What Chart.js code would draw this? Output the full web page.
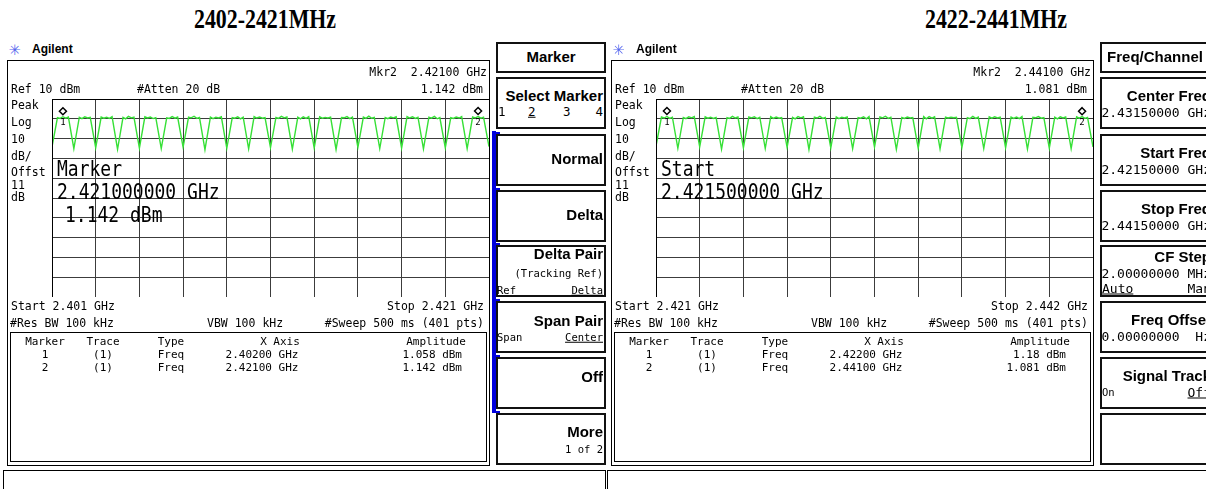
<!DOCTYPE html>
<html>
<head>
<meta charset="utf-8">
<script src="https://cdn.jsdelivr.net/npm/chart.js@4.4.1/dist/chart.umd.min.js"></script>
<style>
  html, body { margin: 0; padding: 0; background: #fff; }
  body { width: 1206px; height: 489px; position: relative; overflow: hidden; font-family: 'DejaVu Sans Mono', monospace; color: #000; }
  .ttl { position: absolute; top: 3px; width: 400px; text-align: center; font: bold 28px 'Liberation Serif', serif; transform: scaleX(.78); white-space: nowrap; }
  .panel { position: absolute; top: 0; height: 489px; overflow: hidden; }
  .box { position: absolute; box-sizing: border-box; border: 1px solid #000; }
  .sk { position: absolute; box-sizing: border-box; border: 2px solid #111; }
  .t { position: absolute; white-space: pre; line-height: 1; font-size: 11.5px; }
  .sm { font-size: 11px; }
  .big { font-size: 18px; }
  .kb { font: bold 15px 'Liberation Sans', sans-serif; }
  .kv { font-size: 10.5px; }
  .kn { font-size: 12.5px; }
  .kv2 { font-size: 13px; }
  .u { text-decoration: underline; }
  .logo { font: bold 12px 'Liberation Sans', sans-serif; }
  .star { color: #5566ee; font-size: 19px; }
  canvas { position: absolute; }
</style>
</head>
<body>
<div class="ttl" style="left:65px">2402-2421MHz</div>
<div class="ttl" style="left:796px">2422-2441MHz</div>
<div class="panel" id="pL" style="left:0;width:606px"><canvas id="cL" width="438" height="199" style="left:51px;top:98px"></canvas></div>
<div class="panel" id="pR" style="left:604px;width:602px"><canvas id="cR" width="438" height="199" style="left:51px;top:98px"></canvas></div>
<script>
// ── trace data (MHz, dBm) ─────────────────────────────────────
const freqL = [
  2401.5, 2401.75, 2401.87, 2402, 2402.13, 2402.25,
  2402.5, 2402.75, 2402.87, 2403, 2403.13, 2403.25,
  2403.5, 2403.75, 2403.87, 2404, 2404.13, 2404.25,
  2404.5, 2404.75, 2404.87, 2405, 2405.13, 2405.25,
  2405.5, 2405.75, 2405.87, 2406, 2406.13, 2406.25,
  2406.5, 2406.75, 2406.87, 2407, 2407.13, 2407.25,
  2407.5, 2407.75, 2407.87, 2408, 2408.13, 2408.25,
  2408.5, 2408.75, 2408.87, 2409, 2409.13, 2409.25,
  2409.5, 2409.75, 2409.87, 2410, 2410.13, 2410.25,
  2410.5, 2410.75, 2410.87, 2411, 2411.13, 2411.25,
  2411.5, 2411.75, 2411.87, 2412, 2412.13, 2412.25,
  2412.5, 2412.75, 2412.87, 2413, 2413.13, 2413.25,
  2413.5, 2413.75, 2413.87, 2414, 2414.13, 2414.25,
  2414.5, 2414.75, 2414.87, 2415, 2415.13, 2415.25,
  2415.5, 2415.75, 2415.87, 2416, 2416.13, 2416.25,
  2416.5, 2416.75, 2416.87, 2417, 2417.13, 2417.25,
  2417.5, 2417.75, 2417.87, 2418, 2418.13, 2418.25,
  2418.5, 2418.75, 2418.87, 2419, 2419.13, 2419.25,
  2419.5, 2419.75, 2419.87, 2420, 2420.13, 2420.25,
  2420.5, 2420.75, 2420.87, 2421, 2421.13, 2421.25,
  2421.5
];
const levelL = [
  -14.2, 0.6, 0.2, 1.06, 0.3, 0.9,
  -15.1, 0.8, 0.1, 1.0, 0.4, 0.7,
  -14.6, 0.9, 0.3, 0.8, 0.2, 1.1,
  -15.4, 0.7, 0.0, 1.2, 0.5, 0.8,
  -14.8, 1.0, 0.4, 0.9, 0.1, 0.6,
  -15.0, 0.5, 0.2, 1.1, 0.3, 0.9,
  -14.3, 0.8, 0.5, 1.3, 0.2, 0.7,
  -15.6, 0.9, 0.1, 0.8, 0.4, 1.0,
  -14.9, 0.6, 0.3, 1.0, 0.0, 0.8,
  -15.2, 1.1, 0.4, 0.9, 0.3, 0.6,
  -14.5, 0.7, 0.2, 1.2, 0.5, 0.9,
  -15.3, 0.8, 0.0, 1.0, 0.2, 1.1,
  -14.7, 1.0, 0.3, 0.7, 0.4, 0.8,
  -15.5, 0.6, 0.5, 1.1, 0.1, 0.9,
  -14.4, 0.9, 0.2, 1.3, 0.3, 0.7,
  -15.0, 0.7, 0.1, 0.9, 0.5, 1.0,
  -14.8, 1.1, 0.4, 1.0, 0.2, 0.8,
  -15.2, 0.8, 0.3, 1.2, 0.0, 0.6,
  -14.6, 0.6, 0.2, 0.9, 0.4, 1.1,
  -15.1, 0.9, 0.5, 1.14, 0.3, 0.8,
  -14.0
];
const freqR = [
  2421.5, 2421.75, 2421.87, 2422, 2422.13, 2422.25,
  2422.5, 2422.75, 2422.87, 2423, 2423.13, 2423.25,
  2423.5, 2423.75, 2423.87, 2424, 2424.13, 2424.25,
  2424.5, 2424.75, 2424.87, 2425, 2425.13, 2425.25,
  2425.5, 2425.75, 2425.87, 2426, 2426.13, 2426.25,
  2426.5, 2426.75, 2426.87, 2427, 2427.13, 2427.25,
  2427.5, 2427.75, 2427.87, 2428, 2428.13, 2428.25,
  2428.5, 2428.75, 2428.87, 2429, 2429.13, 2429.25,
  2429.5, 2429.75, 2429.87, 2430, 2430.13, 2430.25,
  2430.5, 2430.75, 2430.87, 2431, 2431.13, 2431.25,
  2431.5, 2431.75, 2431.87, 2432, 2432.13, 2432.25,
  2432.5, 2432.75, 2432.87, 2433, 2433.13, 2433.25,
  2433.5, 2433.75, 2433.87, 2434, 2434.13, 2434.25,
  2434.5, 2434.75, 2434.87, 2435, 2435.13, 2435.25,
  2435.5, 2435.75, 2435.87, 2436, 2436.13, 2436.25,
  2436.5, 2436.75, 2436.87, 2437, 2437.13, 2437.25,
  2437.5, 2437.75, 2437.87, 2438, 2438.13, 2438.25,
  2438.5, 2438.75, 2438.87, 2439, 2439.13, 2439.25,
  2439.5, 2439.75, 2439.87, 2440, 2440.13, 2440.25,
  2440.5, 2440.75, 2440.87, 2441, 2441.13, 2441.25,
  2441.5
];
const levelR = [
  -13.8, 0.9, 0.4, 1.18, 0.2, 0.8,
  -14.9, 0.7, 0.1, 1.0, 0.5, 1.1,
  -14.2, 1.0, 0.3, 0.8, 0.2, 0.7,
  -15.3, 0.6, 0.2, 1.2, 0.4, 0.9,
  -14.6, 0.9, 0.5, 1.0, 0.1, 0.8,
  -15.0, 1.1, 0.2, 0.9, 0.3, 0.6,
  -14.4, 0.7, 0.0, 1.1, 0.5, 1.0,
  -15.5, 0.8, 0.4, 1.2, 0.2, 0.7,
  -14.7, 1.0, 0.1, 0.8, 0.4, 0.9,
  -15.1, 0.6, 0.3, 1.0, 0.0, 1.1,
  -14.3, 0.9, 0.5, 1.3, 0.2, 0.8,
  -15.4, 0.7, 0.2, 0.9, 0.4, 0.6,
  -14.8, 1.1, 0.0, 1.1, 0.3, 1.0,
  -15.2, 0.8, 0.4, 0.8, 0.5, 0.7,
  -14.5, 0.6, 0.1, 1.2, 0.2, 0.9,
  -15.0, 1.0, 0.3, 1.0, 0.4, 0.8,
  -14.6, 0.9, 0.2, 0.9, 0.1, 1.1,
  -15.3, 0.7, 0.5, 1.1, 0.3, 0.6,
  -14.9, 0.8, 0.0, 1.0, 0.4, 0.9,
  -15.1, 1.0, 0.3, 1.08, 0.2, 0.7,
  -14.2
];
// markers
const mkFreqL = [2402, 2421];
const mkLevelL = [1.058, 1.142];
const mkFreqR = [2422, 2441];
const mkLevelR = [1.18, 1.081];
// grid (10 div), ref 10 dBm, 10 dB/div
const gridFreqL = [2401.5, 2403.5, 2405.5, 2407.5, 2409.5, 2411.5, 2413.5, 2415.5, 2417.5, 2419.5, 2421.5];
const gridFreqR = [2421.5, 2423.5, 2425.5, 2427.5, 2429.5, 2431.5, 2433.5, 2435.5, 2437.5, 2439.5, 2441.5];
const gridLevel = [10, 0, -10, -20, -30, -40, -50, -60, -70, -80, -90];

// ── helpers ──────────────────────────────────────────────────
function T(p, x, y, s, cls, al, sy) {
  const d = document.createElement('div');
  d.className = 't ' + (cls || '');
  d.textContent = s;
  d.style.left = x + 'px';
  d.style.top = y + 'px';
  const tx = al === 'r' ? '-100%' : al === 'c' ? '-50%' : '0';
  d.style.transform = `translate(${tx},-50%)` + (sy ? ` scaleY(${sy})` : '');
  p.appendChild(d);
  return d;
}
function B(p, x, y, w, h, cls, st) {
  const d = document.createElement('div');
  d.className = cls || 'box';
  d.style.left = x + 'px'; d.style.top = y + 'px';
  d.style.width = w + 'px'; d.style.height = h + 'px';
  if (st) d.style.cssText += st;
  p.appendChild(d);
  return d;
}

function buildPanel(p, cfg) {
  // logo
  T(p, 9, 48, '\u2733', 'star');
  T(p, 32, 49, 'Agilent', 'logo');
  // frame
  B(p, 7, 60, 483, 406);
  T(p, 11, 89, 'Ref 10 dBm', '', '', 1.1);
  T(p, 137, 89, '#Atten 20 dB', '', '', 1.1);
  T(p, 487, 72, cfg.mkr, '', 'r', 1.1);
  T(p, 483, 89, cfg.amp, '', 'r', 1.1);
  [['Peak', 105], ['Log', 122], ['10', 139], ['dB/', 156], ['Offst', 172], ['11', 185], ['dB', 197]]
    .forEach(([s, y]) => T(p, 11, y, s, '', '', 1.1));
  cfg.big.forEach(([s, x, y]) => T(p, x, y, s, 'big', '', 1.2));
  T(p, 11, 306, cfg.start, '', '', 1.1);
  T(p, 484, 306, cfg.stop, '', 'r', 1.1);
  T(p, 10, 323, '#Res BW 100 kHz', '', '', 1.1);
  T(p, 207, 323, 'VBW 100 kHz', '', '', 1.1);
  T(p, 484, 323, '#Sweep 500 ms (401 pts)', '', 'r', 1.1);
  // marker table
  B(p, 10, 332, 477, 130);
  [['Marker', 45], ['Trace', 103], ['Type', 171], ['X Axis', 280], ['Amplitude', 436]]
    .forEach(([s, x]) => T(p, x, 341, s, 'sm', 'c'));
  cfg.rows.forEach((r, i) => {
    const y = 354 + i * 13;
    T(p, 45, y, r[0], 'sm', 'c');
    T(p, 103, y, '(1)', 'sm', 'c');
    T(p, 171, y, 'Freq', 'sm', 'c');
    T(p, 262, y, r[1], 'sm', 'c');
    T(p, 462, y, r[2], 'sm', 'r');
  });
  // bottom status box
  B(p, 3, 470, 603, 30);
  // softkeys
  const tops = [77, 134, 190, 245, 301, 357, 413];
  B(p, 496, 42, 110, 31, 'sk');
  T(p, 551, 56, cfg.title, 'kb', 'c');
  tops.forEach((y, i) => {
    B(p, 496, y, 110, 52, 'sk');
    (cfg.keys[i] || []).forEach(([s, dx, dy, cls, al]) => T(p, 496 + dx, y + dy, s, cls, al));
  });
  if (cfg.blue) {
    B(p, 492, 131, 4, 282, 'box', 'border:none;background:#0000dd');
    tops.slice(1).forEach(y => B(p, 492, y - 2, 8, 2, 'box', 'border:none;background:#0000dd'));
  }
}

const R = 107; // right text edge inside softkey
buildPanel(document.getElementById('pL'), {
  mkr: 'Mkr2  2.42100 GHz', amp: '1.142 dBm',
  big: [['Marker', 57, 169], ['2.421000000 GHz', 57, 192], ['1.142 dBm', 65, 215]],
  start: 'Start 2.401 GHz', stop: 'Stop 2.421 GHz',
  rows: [['1', '2.40200 GHz', '1.058 dBm'], ['2', '2.42100 GHz', '1.142 dBm']],
  title: 'Marker', blue: true,
  keys: [
    [['Select Marker', R, 18, 'kb', 'r'], ['1', 2, 35, 'kn'], ['2', 32, 35, 'kn u'], ['3', 67, 35, 'kn'], ['4', R, 35, 'kn', 'r']],
    [['Normal', R, 24, 'kb', 'r']],
    [['Delta', R, 24, 'kb', 'r']],
    [['Delta Pair', R, 8, 'kb', 'r'], ['(Tracking Ref)', R, 28, 'kv', 'r'], ['Ref', 1, 45, 'kv'], ['Delta', R, 45, 'kv u', 'r']],
    [['Span Pair', R, 19, 'kb', 'r'], ['Span', 1, 36, 'kv'], ['Center', R, 36, 'kv u', 'r']],
    [['Off', R, 19, 'kb', 'r']],
    [['More', R, 18, 'kb', 'r'], ['1 of 2', R, 36, 'kv', 'r']]
  ]
});
const R2 = 111;
buildPanel(document.getElementById('pR'), {
  mkr: 'Mkr2  2.44100 GHz', amp: '1.081 dBm',
  big: [['Start', 57, 169], ['2.421500000 GHz', 57, 192]],
  start: 'Start 2.421 GHz', stop: 'Stop 2.442 GHz',
  rows: [['1', '2.42200 GHz', '1.18 dBm'], ['2', '2.44100 GHz', '1.081 dBm']],
  title: 'Freq/Channel', blue: false,
  keys: [
    [['Center Freq', R2, 18, 'kb', 'r'], ['2.43150000 GHz', R2, 35, 'kv2', 'r']],
    [['Start Freq', R2, 18, 'kb', 'r'], ['2.42150000 GHz', R2, 35, 'kv2', 'r']],
    [['Stop Freq', R2, 18, 'kb', 'r'], ['2.44150000 GHz', R2, 35, 'kv2', 'r']],
    [['CF Step', R2, 11, 'kb', 'r'], ['2.00000000 MHz', R2, 28, 'kv2', 'r'], ['Auto', 2, 43, 'kv2 u'], ['Man', R2, 43, 'kv2', 'r']],
    [['Freq Offset', R2, 18, 'kb', 'r'], ['0.00000000  Hz', R2, 35, 'kv2', 'r']],
    [['Signal Track', R2, 18, 'kb', 'r'], ['On', 2, 35, 'kv'], ['Off', R2, 35, 'kv2 u', 'r']],
    []
  ]
});

// ── chart ────────────────────────────────────────────────────
const markerPlugin = {
  id: 'mk',
  afterDatasetsDraw(chart, args, opts) {
    const c = chart.ctx, xs = chart.scales.x, ys = chart.scales.y;
    c.save();
    c.strokeStyle = '#000'; c.fillStyle = '#000'; c.lineWidth = 1.5;
    c.font = '9px "DejaVu Sans Mono"'; c.textAlign = 'center'; c.textBaseline = 'middle';
    opts.f.forEach((f, i) => {
      const px = xs.getPixelForValue(f), py = ys.getPixelForValue(opts.l[i]);
      c.beginPath();
      c.moveTo(px, py - 9); c.lineTo(px + 3.5, py - 5.5); c.lineTo(px, py - 2); c.lineTo(px - 3.5, py - 5.5); c.closePath();
      c.stroke();
      c.fillText(String(i + 1), px, py + 6);
    });
    const a = chart.chartArea;
    c.lineWidth = 1; c.strokeRect(Math.round(a.left) + 0.5, Math.round(a.top) + 0.5, Math.round(a.right - a.left), Math.round(a.bottom - a.top));
    c.restore();
  }
};

function scope(id, freqs, levels, gridF, mkF, mkL) {
  new Chart(document.getElementById(id), {
    type: 'line',
    data: { datasets: [{
      data: freqs.map((f, i) => ({ x: f, y: levels[i] })),
      borderColor: '#36e036', borderWidth: 1.4, pointRadius: 0, tension: 0
    }]},
    options: {
      responsive: false, animation: false, devicePixelRatio: 1,
      layout: { padding: { left: 1, top: 1, right: 0, bottom: 0 } },
      plugins: { legend: { display: false }, tooltip: { enabled: false }, mk: { f: mkF, l: mkL } },
      scales: {
        x: { type: 'linear', min: gridF[0], max: gridF[gridF.length - 1],
             afterBuildTicks: s => { s.ticks = gridF.map(v => ({ value: v })); },
             afterFit: s => { s.height = 0; },
             ticks: { display: false }, grid: { color: '#3c3c3c', drawTicks: false }, border: { color: '#000' } },
        y: { min: -90, max: 10,
             afterBuildTicks: s => { s.ticks = gridLevel.map(v => ({ value: v })); },
             afterFit: s => { s.width = 0; },
             ticks: { display: false }, grid: { color: '#3c3c3c', drawTicks: false }, border: { color: '#000' } }
      }
    },
    plugins: [markerPlugin]
  });
}
scope('cL', freqL, levelL, gridFreqL, mkFreqL, mkLevelL);
scope('cR', freqR, levelR, gridFreqR, mkFreqR, mkLevelR);
</script>
</body>
</html>
